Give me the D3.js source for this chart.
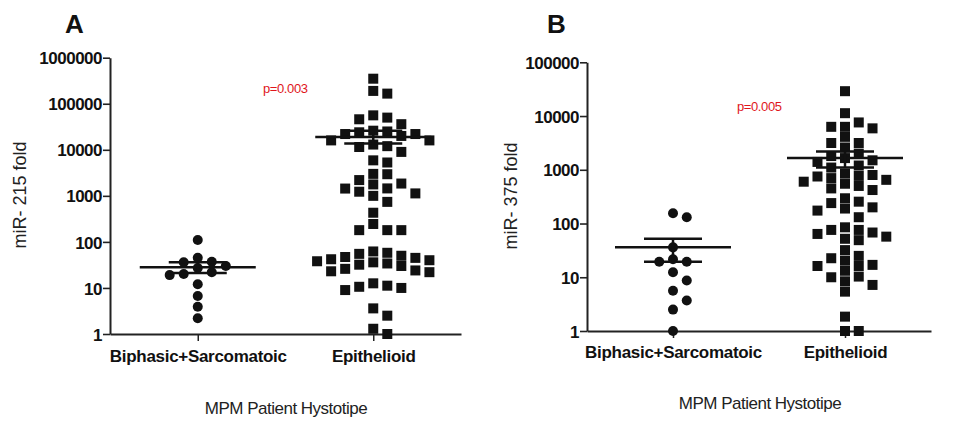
<!DOCTYPE html>
<html><head><meta charset="utf-8">
<script src="https://cdn.jsdelivr.net/npm/d3@7"></script>
<style>
body{margin:0;background:#fff;}
svg{display:block;}
</style></head>
<body>
<svg id="chart" width="953" height="425"></svg>
<script>
// ---------- DATA ----------
const categories = ["Biphasic+Sarcomatoic", "Epithelioid"];
const panelLetters = ["A", "B"];
const yTitles = ["miR- 215 fold", "miR- 375 fold"];
const xTitle = "MPM Patient Hystotipe";
const pLabels = ["p=0.003", "p=0.005"];

const ticksA = [1, 10, 100, 1000, 10000, 100000, 1000000];
const tickLabelsA = ["1", "10", "100", "1000", "10000", "100000", "1000000"];
const ticksB = [1, 10, 100, 1000, 10000, 100000];
const tickLabelsB = ["1", "10", "100", "1000", "10000", "100000"];

const biphasicA = [110, 45, 37, 36, 30, 27, 22, 20, 19, 12, 6.7, 3.9, 2.2];
const epithelioidA = [
  350000, 190000, 166000,
  56000, 50000, 46000, 36000,
  26000, 25000, 24000, 22000, 22000, 20000, 16000, 16000, 13000, 12000, 11500, 9000,
  5900, 5300,
  3000, 2950, 2200,
  1850, 1770, 1450, 1440, 1230, 1130, 1000, 740,
  430,
  245, 180, 180, 180,
  62, 58, 55, 50, 47, 45, 42, 40, 38, 36, 34, 32, 30,
  26, 24, 23, 22,
  12.6, 11.2, 10.6, 10, 9,
  3.6, 2.5, 1.3, 1.0
];
const meanA = [28, 19000];
const semHiA = [36, 26000];
const semLoA = [21, 13700];

const biphasicB = [155, 131, 36, 21.6, 19.5, 19.5, 12.4, 8.7, 5.6, 3.7, 2.5, 1.0];
const epithelioidB = [
  29000, 11300,
  7600, 6300, 6300, 5900, 4100,
  3150, 3150, 2600,
  2000, 1800, 1650, 1500, 1400, 1200, 1100,
  850, 800, 770, 750, 700, 650, 600, 550, 500, 450, 420,
  295, 255, 240, 200, 190, 174, 131,
  85, 76, 76, 68, 64, 57, 52, 49, 32,
  25, 22.6, 20.4, 17, 16.2, 16.2, 13.2,
  10.3, 10, 8.4, 7.2, 5.4,
  1.85, 1, 1
];
const meanB = [36, 1650];
const semHiB = [52, 2200];
const semLoB = [19.5, 1100];

// ---------- DRAWING ----------
const svg = d3.select("#chart");
const FONT = "'Liberation Sans', Arial, sans-serif";

function swarm(values, y, cx, step, minDy) {
  const pts = values.map(v => ({v, y: y(v)})).sort((a, b) => a.y - b.y);
  const placed = [];
  for (const p of pts) {
    let slot = null;
    for (let k = 0; slot === null; k++) {
      const cands = k === 0 ? [0] : [k, -k];
      for (const c of cands) {
        if (!placed.some(q => q.slot === c && Math.abs(q.y - p.y) < minDy)) { slot = c; break; }
      }
    }
    p.slot = slot; p.x = cx + slot * step;
    placed.push(p);
  }
  return placed;
}

function panel(cfg) {
  const g = svg.append("g");
  const x = d3.scalePoint().domain(categories).range([cfg.x0, cfg.x1]).padding(0.5);
  const y = d3.scaleLog().domain([1, cfg.ticks[cfg.ticks.length - 1]]).range([cfg.yBottom, cfg.yTop]);

  // Y axis
  const ya = g.append("g").attr("transform", `translate(${cfg.x0},0)`)
    .call(d3.axisLeft(y).tickValues(cfg.ticks).tickFormat((d, i) => cfg.tickLabels[i]).tickSize(7).tickSizeOuter(0).tickPadding(1));
  ya.select(".domain").attr("stroke", "#222").attr("stroke-width", 2);
  ya.selectAll(".tick line").attr("stroke", "#222").attr("stroke-width", 1.6);
  ya.selectAll(".tick text").attr("font-family", FONT).attr("font-weight", "bold")
    .attr("font-size", 17).attr("letter-spacing", -0.5).attr("fill", "#111").attr("dy", "0.36em");

  // X axis
  const xa = g.append("g").attr("transform", `translate(0,${cfg.yBottom})`)
    .call(d3.axisBottom(x).tickSize(7).tickSizeOuter(0));
  xa.select(".domain").attr("stroke", "#222").attr("stroke-width", 2);
  xa.selectAll(".tick line").attr("stroke", "#222").attr("stroke-width", 1.5);
  xa.selectAll(".tick text").attr("font-family", FONT).attr("font-weight", "bold")
    .attr("font-size", 17).attr("fill", "#111").attr("y", cfg.catDy).attr("dy", 0)
    .attr("letter-spacing", -0.3);

  // points
  const step = (cfg.x1 - cfg.x0) / 2 * 0.08;
  const bp = swarm(cfg.bi, y, x(categories[0]), step, 10);
  g.append("g").selectAll("circle").data(bp).join("circle")
    .attr("cx", d => d.x).attr("cy", d => d.y).attr("r", 5).attr("fill", "#111");
  const ep = swarm(cfg.ep, y, x(categories[1]), step, 10);
  g.append("g").selectAll("rect").data(ep).join("rect")
    .attr("x", d => d.x - 5).attr("y", d => d.y - 5).attr("width", 10).attr("height", 10).attr("fill", "#111");

  // mean and SEM lines
  const mw = 58, sw = 29;
  categories.forEach((c, i) => {
    const cx = x(c);
    g.append("line").attr("x1", cx - mw).attr("x2", cx + mw).attr("y1", y(cfg.mean[i])).attr("y2", y(cfg.mean[i]))
      .attr("stroke", "#111").attr("stroke-width", 2.5);
    [cfg.semHi[i], cfg.semLo[i]].forEach(v => {
      g.append("line").attr("x1", cx - sw).attr("x2", cx + sw).attr("y1", y(v)).attr("y2", y(v))
        .attr("stroke", "#111").attr("stroke-width", 2.5);
    });
    g.append("line").attr("x1", cx).attr("x2", cx).attr("y1", y(cfg.semHi[i])).attr("y2", y(cfg.semLo[i]))
      .attr("stroke", "#111").attr("stroke-width", 2.5);
  });

  // texts
  g.append("text").attr("x", cfg.letterX).attr("y", 33).text(cfg.letter)
    .attr("font-family", FONT).attr("font-weight", "bold").attr("font-size", 26).attr("fill", "#111");
  g.append("text").attr("transform", `translate(${cfg.yTitleX},${cfg.yTitleY}) rotate(-90)`)
    .attr("text-anchor", "middle").text(cfg.yTitle)
    .attr("font-family", FONT).attr("font-size", 18).attr("fill", "#222");
  g.append("text").attr("x", cfg.xTitleX).attr("y", cfg.xTitleY).attr("text-anchor", "middle").text(xTitle)
    .attr("font-family", FONT).attr("font-size", 17).attr("letter-spacing", -0.5).attr("fill", "#222");
  g.append("text").attr("x", cfg.pX).attr("y", cfg.pY).text(cfg.p)
    .attr("font-family", FONT).attr("font-size", 13).attr("letter-spacing", -0.4).attr("fill", "#e0161b");
}

panel({
  x0: 110, x1: 461, yTop: 57.7, yBottom: 334,
  ticks: ticksA, tickLabels: tickLabelsA, bi: biphasicA, ep: epithelioidA,
  mean: meanA, semHi: semHiA, semLo: semLoA, catDy: 28,
  letter: panelLetters[0], letterX: 65, yTitle: yTitles[0], yTitleX: 26, yTitleY: 195,
  xTitleX: 286, xTitleY: 414, p: pLabels[0], pX: 263, pY: 93
});
panel({
  x0: 587, x1: 931, yTop: 62.3, yBottom: 331,
  ticks: ticksB, tickLabels: tickLabelsB, bi: biphasicB, ep: epithelioidB,
  mean: meanB, semHi: semHiB, semLo: semLoB, catDy: 27,
  letter: panelLetters[1], letterX: 547, yTitle: yTitles[1], yTitleX: 517, yTitleY: 196,
  xTitleX: 760, xTitleY: 409, p: pLabels[1], pX: 737, pY: 111
});
</script>
</body></html>
